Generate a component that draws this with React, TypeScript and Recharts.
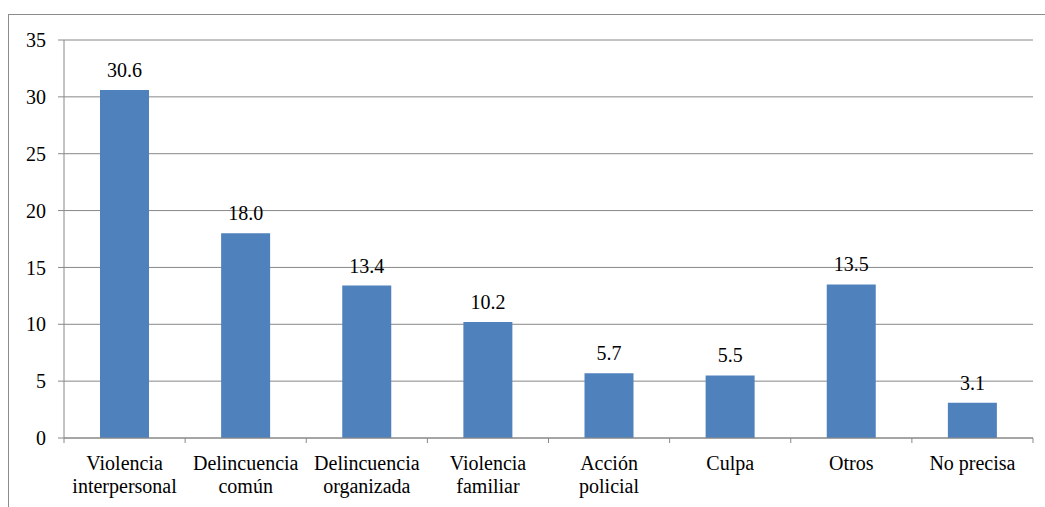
import React from 'react'
import {
  BarChart,
  Bar,
  XAxis,
  YAxis,
  CartesianGrid,
  LabelList,
} from 'recharts'

const categories = [
  ['Violencia', 'interpersonal'],
  ['Delincuencia', 'común'],
  ['Delincuencia', 'organizada'],
  ['Violencia', 'familiar'],
  ['Acción', 'policial'],
  ['Culpa'],
  ['Otros'],
  ['No precisa'],
]
const values = [30.6, 18.0, 13.4, 10.2, 5.7, 5.5, 13.5, 3.1]
const yTicks = [0, 5, 10, 15, 20, 25, 30, 35]

const W = 1045
const H = 507
const PLOT_LEFT = 64
const PLOT_RIGHT = 1033
const PLOT_TOP = 40
const PLOT_BOTTOM = 438
const BAND = (PLOT_RIGHT - PLOT_LEFT) / categories.length
const GRID = '#888888'
const FONT = 'Liberation Serif'
const FONT_SIZE = 20

const data = categories.map((lines, i) => ({ name: lines.join(' '), value: values[i] }))

function CategoryTick(props: any) {
  const { x, index } = props
  const lines = categories[index] || []
  const left = x - BAND / 2
  return (
    <g>
      <line x1={left} x2={left} y1={PLOT_BOTTOM} y2={PLOT_BOTTOM + 5} stroke={GRID} />
      {index === categories.length - 1 && (
        <line x1={left + BAND} x2={left + BAND} y1={PLOT_BOTTOM} y2={PLOT_BOTTOM + 5} stroke={GRID} />
      )}
      <text
        x={x}
        y={PLOT_BOTTOM + 32}
        textAnchor="middle"
        fill="#000"
        style={{ fontSize: FONT_SIZE, fontFamily: FONT }}
      >
        {lines.map((l, i) => (
          <tspan key={i} x={x} dy={i === 0 ? 0 : 23}>
            {l}
          </tspan>
        ))}
      </text>
    </g>
  )
}

export default function App() {
  return (
    <div
      style={{
        position: 'absolute',
        left: 0,
        top: 0,
        width: W,
        height: H,
        background: '#fff',
        fontFamily: FONT,
      }}
    >
      {/* outer frame of the chart area */}
      <div
        style={{
          position: 'absolute',
          left: 8,
          top: 14,
          width: W - 8,
          height: H - 14,
          borderTop: '1px solid #8c8c8c',
          borderLeft: '1px solid #8c8c8c',
        }}
      />
      <div style={{ position: 'absolute', left: 0, top: 0 }}>
        <BarChart
          width={W}
          height={H}
          data={data}
          margin={{ top: PLOT_TOP, right: W - PLOT_RIGHT, bottom: 0, left: 0 }}
        >
          <CartesianGrid vertical={false} stroke={GRID} strokeWidth={1} />
          <XAxis
            dataKey="name"
            height={H - PLOT_BOTTOM}
            axisLine={{ stroke: GRID }}
            tickLine={false}
            interval={0}
            tick={<CategoryTick />}
          />
          <YAxis
            width={PLOT_LEFT}
            domain={[0, 35]}
            ticks={yTicks}
            interval={0}
            axisLine={{ stroke: GRID }}
            tickLine={{ stroke: GRID }}
            tickSize={6}
            tickMargin={12}
            tick={{ fill: '#000', style: { fontSize: FONT_SIZE, fontFamily: FONT } }}
          />
          <Bar dataKey="value" fill="#4F81BD" barSize={49} isAnimationActive={false}>
            <LabelList
              dataKey="value"
              position="top"
              offset={13}
              formatter={(v: any) => Number(v).toFixed(1)}
              style={{ fill: '#000', fontSize: FONT_SIZE, fontFamily: FONT }}
            />
          </Bar>
        </BarChart>
      </div>
    </div>
  )
}
